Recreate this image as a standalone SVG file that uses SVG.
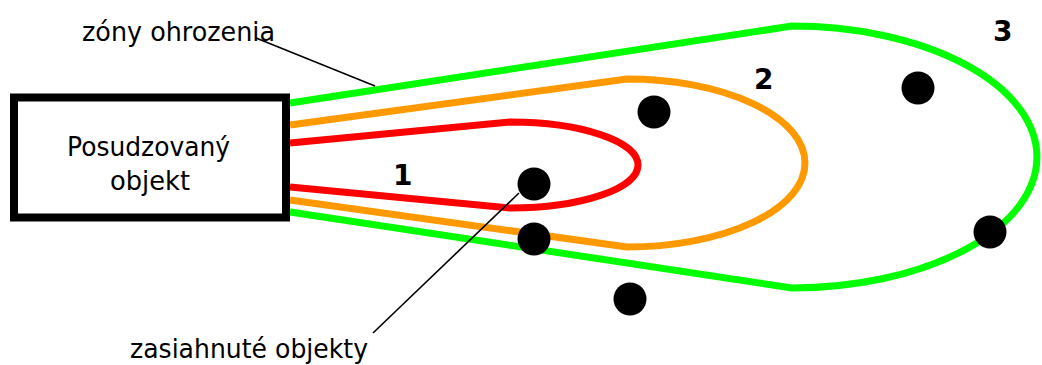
<svg xmlns="http://www.w3.org/2000/svg" width="1042" height="365" viewBox="0 0 1042 365">
<style>
.zone{fill:none;stroke-width:7;stroke-linejoin:round}
.lbl{font-family:"DejaVu Sans","Liberation Sans",sans-serif;font-size:27px;fill:#000}
.num{font-family:"DejaVu Sans","Liberation Sans",sans-serif;font-size:28px;font-weight:bold;fill:#000}
.dot{fill:#000}
.lead{stroke:#000;stroke-width:1.6;fill:none}
</style>
<rect width="1042" height="365" fill="#fff"/>
<g id="zone3">
<path class="zone" stroke="#00ff00" d="M290,103 L792,26 A245,131 0 0 1 792,288 L290,212"/>
<text class="num" x="993" y="41">3</text>
</g>
<g id="zone2">
<path class="zone" stroke="#ff9900" d="M290,125 L627,79 A178,84 0 0 1 627,247 L290,200"/>
<text class="num" x="754" y="89">2</text>
</g>
<g id="zone1">
<path class="zone" stroke="#ff0000" d="M290,143 L510,122 A128,43 0 0 1 510,208 L290,187"/>
<text class="num" x="393" y="185">1</text>
</g>
<g id="objekt">
<rect x="14" y="97.5" width="272" height="120" fill="#fff" stroke="#000" stroke-width="8"/>
<text class="lbl" x="67" y="156" textLength="163" lengthAdjust="spacingAndGlyphs">Posudzovaný</text>
<text class="lbl" x="110" y="190" textLength="80" lengthAdjust="spacingAndGlyphs">objekt</text>
</g>
<g id="dots">
<circle class="dot" cx="654" cy="112" r="16.5"/>
<circle class="dot" cx="534" cy="184" r="16.5"/>
<circle class="dot" cx="534" cy="239" r="16.5"/>
<circle class="dot" cx="918" cy="88" r="16.5"/>
<circle class="dot" cx="990" cy="232" r="16.5"/>
<circle class="dot" cx="630" cy="299" r="16.5"/>
</g>
<g id="label-zony">
<text class="lbl" x="82" y="41" textLength="193" lengthAdjust="spacingAndGlyphs">zóny ohrozenia</text>
</g>
<g id="label-zasiahnute">
<text class="lbl" x="130" y="358" textLength="238" lengthAdjust="spacingAndGlyphs">zasiahnuté objekty</text>
</g>
<g id="connectors">
<line class="lead" x1="256" y1="38" x2="375" y2="86"/>
<line class="lead" x1="519" y1="193" x2="373" y2="333"/>
</g>
</svg>
